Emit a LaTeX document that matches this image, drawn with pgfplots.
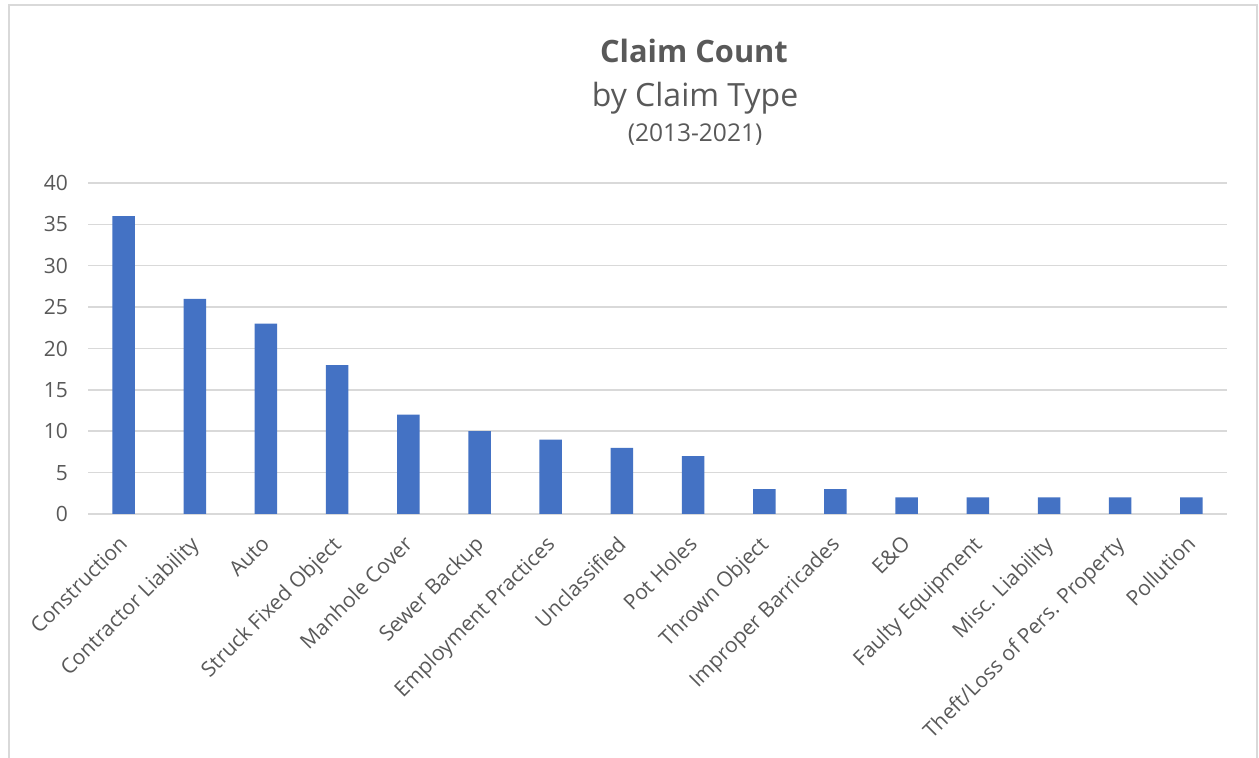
\documentclass[border=0pt]{standalone}
\usepackage{fontspec}
\setmainfont{Open Sans}
\usepackage{pgfplots}
\pgfplotsset{compat=1.18}
\definecolor{barblue}{HTML}{4472C4}
\definecolor{gridgray}{HTML}{D9D9D9}
\definecolor{textgray}{HTML}{595959}
\begin{document}
\begin{tikzpicture}[x=1pt,y=1pt]
\useasboundingbox (0,0) rectangle (1259,758);
\fill[white] (0,0) rectangle (1259,758);
\draw[gridgray, line width=2pt] (9,-10) -- (9,753) -- (1257,753) -- (1257,-10);
\node[anchor=base, text=textgray, font=\fontsize{30.8}{30.8}\selectfont\bfseries] at (694,695) {Claim Count};
\node[anchor=base, text=textgray, font=\fontsize{32}{32}\selectfont] at (695,651) {by Claim Type};
\node[anchor=base, text=textgray, font=\fontsize{24.5}{24.5}\selectfont] at (695,616) {(2013-2021)};
\begin{axis}[
  at={(88pt,244pt)}, anchor=south west,
  scale only axis, width=1139pt, height=331pt,
  xmin=-0.5, xmax=15.5, ymin=0, ymax=40,
  ytick={0,5,...,40},
  xtick={0,...,15},
  xticklabels={Construction, Contractor Liability, Auto, Struck Fixed Object, Manhole Cover, Sewer Backup, Employment Practices, Unclassified, Pot Holes, Thrown Object, Improper Barricades, E\&O, Faulty Equipment, Misc. Liability, Theft/Loss of Pers. Property, Pollution},
  axis line style={draw=none},
  tick style={draw=none},
  ymajorgrids, grid style={gridgray, line width=1.5pt},
  /pgf/number format/assume math mode=true,
  yticklabel style={inner sep=0pt, xshift=-20pt, text=textgray, font=\fontsize{21}{21}\selectfont},
  xticklabel style={inner sep=0pt, xshift=-6pt, yshift=-16pt, rotate=45, anchor=north east, text=textgray, font=\fontsize{21}{21}\selectfont},
  ybar, bar width=22.5pt,
]
\addplot[fill=barblue, draw=none] coordinates {
(0,36) (1,26) (2,23) (3,18) (4,12) (5,10) (6,9) (7,8) (8,7) (9,3) (10,3) (11,2) (12,2) (13,2) (14,2) (15,2)};
\end{axis}
\end{tikzpicture}
\end{document}
